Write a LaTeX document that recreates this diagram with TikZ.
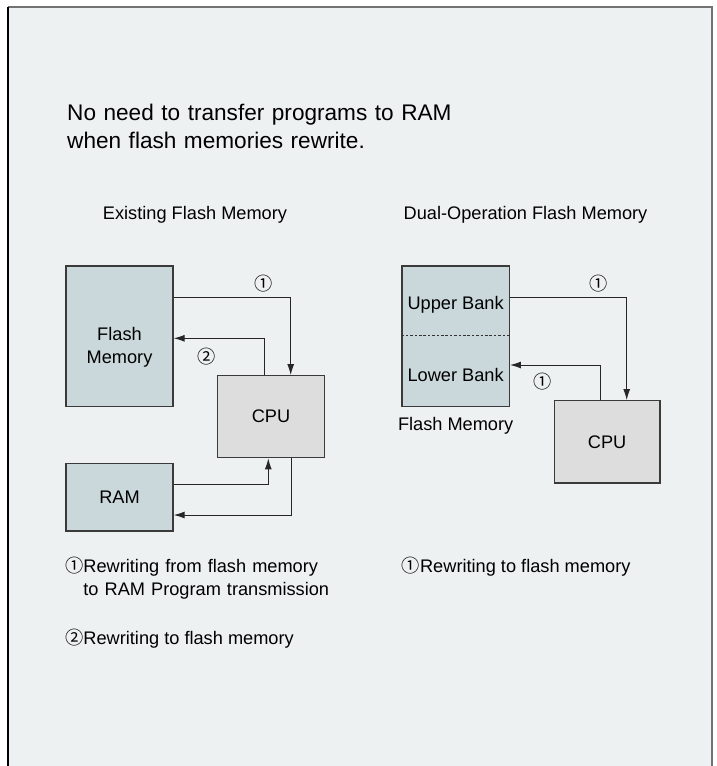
\documentclass[tikz,border=0pt]{standalone}
\usepackage{fontspec}
\setmainfont{Liberation Sans}
\newfontfamily\symfont{Noto Sans CJK JP}
\usetikzlibrary{arrows.meta}
\definecolor{bgc}{HTML}{EDF1F2}
\definecolor{memc}{HTML}{CAD8DC}
\definecolor{cpuc}{HTML}{DDDDDD}
\definecolor{edgec}{HTML}{3A3A3A}
\newcommand{\cOne}{{\symfont\char"2460}}
\newcommand{\cTwo}{{\symfont\char"2461}}
\begin{document}
\begin{tikzpicture}[x=1pt,y=-1pt,
  box/.style={draw=edgec,line width=1.3pt,inner sep=0pt,rectangle},
  mem/.style={box,fill=memc},
  cpu/.style={box,fill=cpuc},
  txt/.style={font=\fontsize{18.2}{22.6}\selectfont,inner sep=0pt},
  arr/.style={line width=1pt,draw=black!85,-{Latex[length=11pt,width=7pt]}},
]
\useasboundingbox (0,0) rectangle (717,766);
% frame
\fill[bgc] (8,7) rectangle (712,770);
\draw[line width=1.5pt,black!55] (8,7) -- (712,7) -- (712,770);
\draw[line width=1.6pt,black] (8,7) -- (8,770);

% title
\node[inner sep=0pt,anchor=base west,text width=450pt,align=left,
      font=\fontsize{22.6}{28.3}\selectfont] (title) at (67,120)
  {No need to transfer programs to RAM\\when flash memories rewrite.};

% headings
\node[txt,anchor=base] (headL) at (195,219.3) {Existing Flash Memory};
\node[txt,anchor=base] (headR) at (525.5,219.3) {Dual-Operation Flash Memory};

% left diagram
\node[mem,minimum width=107pt,minimum height=140.7pt] (flashL) at (119.5,336.35) {};
\node[txt,anchor=base,text width=100pt,align=center] (flashLt) at (119.5,340.7) {Flash\\Memory};
\node[cpu,minimum width=106.6pt,minimum height=82pt,txt] (cpuL) at (271,416.7) {CPU};
\node[mem,minimum width=107pt,minimum height=67.7pt,txt] (ramL) at (119.5,497.2) {RAM};

\coordinate (l1) at (290.7,297.7);
\coordinate (l2) at (264,338.3);
\coordinate (l3) at (268.3,484.3);
\coordinate (l4) at (291,515);
\draw[arr] (flashL.east |- l1) -- (l1) -- (cpuL.north -| l1);
\draw[arr] (cpuL.north -| l2) -- (l2) -- (flashL.east |- l2);
\draw[arr] (ramL.east |- l3) -- (l3) -- (cpuL.south -| l3);
\draw[arr] (cpuL.south -| l4) -- (l4) -- (ramL.east |- l4);
\node[txt] (n1L) at (263.3,283.3) {\cOne};
\node[txt] (n2L) at (206.7,356.7) {\cTwo};

% right diagram
\node[mem,minimum width=107.3pt,minimum height=140.7pt] (flashR) at (455.65,336.35) {};
\coordinate (dy) at (0,335.7);
\draw[line width=0.9pt,black!80,dash pattern=on 2.6pt off 1.8pt] (flashR.west |- dy) -- (flashR.east |- dy);
\node[txt] (upper) at (455.65,304.3) {Upper Bank};
\node[txt] (lower) at (455.65,375) {Lower Bank};
\node[txt] (flashRt) at (455.65,425.7) {Flash Memory};
\node[cpu,minimum width=105.7pt,minimum height=82.3pt,txt] (cpuR) at (607.15,441.85) {CPU};

\coordinate (r1) at (626.7,297.7);
\coordinate (r2) at (600.7,365);
\draw[arr] (flashR.east |- r1) -- (r1) -- (cpuR.north -| r1);
\draw[arr] (cpuR.north -| r2) -- (r2) -- (flashR.east |- r2);
\node[txt] (n1R) at (599,283.3) {\cOne};
\node[txt] (n1Rb) at (542.3,381.7) {\cOne};

% legends
\node[txt,anchor=base west,text width=320pt,align=left] (legL1) at (65,572.7)
  {\cOne Rewriting from flash memory\\\hphantom{\cOne}to RAM Program transmission};
\node[txt,anchor=base west] (legL2) at (65,644.3) {\cTwo Rewriting to flash memory};
\node[txt,anchor=base west] (legR1) at (401.7,572.7) {\cOne Rewriting to flash memory};
\end{tikzpicture}
\end{document}
